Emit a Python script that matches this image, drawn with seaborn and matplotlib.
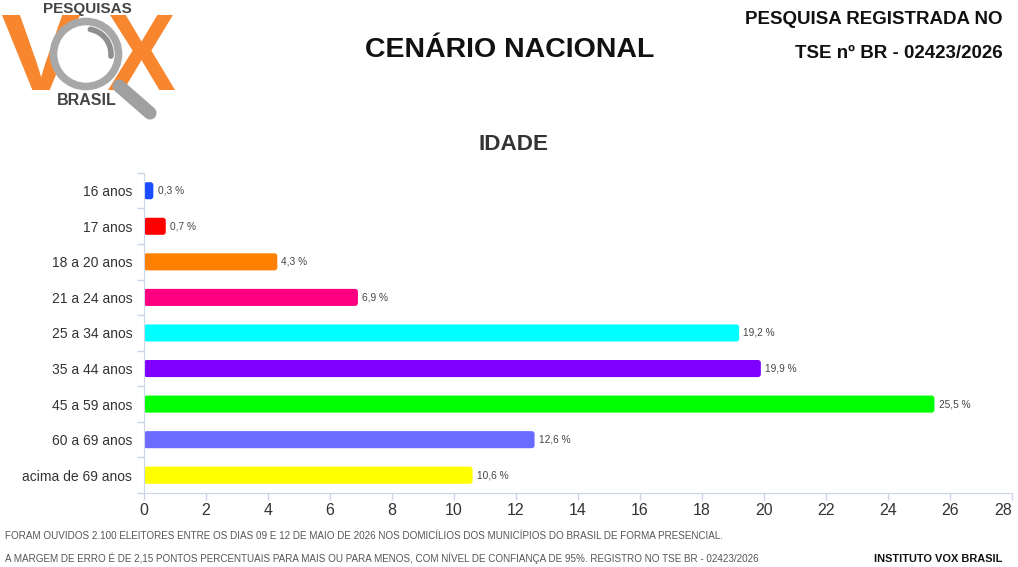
import numpy as np
import pandas as pd
import matplotlib
matplotlib.use("Agg")
import matplotlib.pyplot as plt
import seaborn as sns
from matplotlib.patches import Circle, PathPatch, FancyBboxPatch, Arc
from matplotlib.lines import Line2D
from matplotlib.textpath import TextPath
from matplotlib.font_manager import FontProperties
from matplotlib.transforms import Affine2D

# chart data
faixas = ["16 anos", "17 anos", "18 a 20 anos", "21 a 24 anos", "25 a 34 anos",
          "35 a 44 anos", "45 a 59 anos", "60 a 69 anos", "acima de 69 anos"]
percentuais = [0.3, 0.7, 4.3, 6.9, 19.2, 19.9, 25.5, 12.6, 10.6]
cores = ["#1a4dff", "#ff0000", "#ff8000", "#ff0080", "#00ffff",
         "#8000ff", "#00ff00", "#6b6bff", "#ffff00"]
x_ticks = list(range(0, 29, 2))

sns.set_style("white")
plt.rcParams['font.family'] = ['Liberation Sans', 'DejaVu Sans']

df = pd.DataFrame({"faixa": faixas, "pct": percentuais})

fig = plt.figure(figsize=(10.18, 5.67), dpi=100)
ax = fig.add_axes([0.1415, 0.1305, 0.8525, 0.5645])

sns.barplot(data=df, x="pct", y="faixa", hue="faixa", palette=cores,
            orient="h", width=0.48, legend=False, ax=ax, saturation=1)

for c in ax.containers:
    ax.bar_label(c, labels=[f"{v:.1f} %".replace(".", ",") for v in c.datavalues],
                 padding=3, fontsize=7.3, color="#444444")

# swap the square bars for slightly rounded ones
for p in list(ax.patches):
    x, y = p.get_x(), p.get_y()
    w, h = p.get_width(), p.get_height()
    fc = p.get_facecolor()
    p.set_visible(False)
    ax.add_patch(FancyBboxPatch((x, y), w, h,
                                boxstyle="round,pad=0,rounding_size=0.09",
                                mutation_aspect=31 / 35.5,
                                facecolor=fc, edgecolor="none"))

axis_col = "#ccd6eb"
ax.set_xlim(0, 28)
ax.set_ylim(len(faixas) - 0.5, -0.5)
ax.set_xticks(x_ticks)
ax.set_xticklabels([str(t) for t in x_ticks])
ax.set_xlabel("")
ax.set_ylabel("")
for sp in ["top", "right"]:
    ax.spines[sp].set_visible(False)
ax.spines["left"].set_color(axis_col)
ax.spines["bottom"].set_color(axis_col)
ax.tick_params(axis="x", bottom=True, length=5, width=1, color=axis_col,
               labelsize=11.5, labelcolor="#333333", pad=2.5)
ax.tick_params(axis="y", which="major", left=True, length=0, labelsize=10,
               labelcolor="#333333", pad=8.5)
ax.set_yticks(np.arange(-0.5, len(faixas), 1), minor=True)
ax.tick_params(axis="y", which="minor", left=True, length=5, width=1, color=axis_col)
ax.get_xticklabels()[-1].set_ha("right")

# headers
fig.text(0.501, 0.912, "CENÁRIO NACIONAL", ha="center", va="center",
         fontsize=20.5, fontweight="bold", color="#111111")
fig.text(0.504, 0.745, "IDADE", ha="center", va="center",
         fontsize=16.2, fontweight="bold", color="#333333")
fig.text(0.985, 0.965, "PESQUISA REGISTRADA NO", ha="right", va="center",
         fontsize=13.5, fontweight="bold", color="#111111")
fig.text(0.985, 0.905, "TSE nº BR - 02423/2026", ha="right", va="center",
         fontsize=13.5, fontweight="bold", color="#111111")

# footer
fig.text(0.005, 0.054, "FORAM OUVIDOS 2.100 ELEITORES ENTRE OS DIAS 09 E 12 DE MAIO DE 2026 NOS DOMICÍLIOS DOS MUNICÍPIOS DO BRASIL DE FORMA PRESENCIAL.",
         ha="left", va="center", fontsize=7.13, color="#555555")
fig.text(0.005, 0.016, "A MARGEM DE ERRO É DE 2,15 PONTOS PERCENTUAIS PARA MAIS OU PARA MENOS, COM NÍVEL DE CONFIANÇA DE 95%. REGISTRO NO TSE BR - 02423/2026",
         ha="left", va="center", fontsize=7.13, color="#555555")
fig.text(0.985, 0.014, "INSTITUTO VOX BRASIL", ha="right", va="center",
         fontsize=7.9, fontweight="bold", color="#111111")

# logo, drawn in pixel positions (origin top-left, 100 px per inch)
H = 567
def pix(x, y):
    return (x / 100.0, (H - y) / 100.0)

bold = FontProperties(family="Liberation Sans", weight="bold")
for letra, x0, x1 in [("V", 2, 80), ("X", 108, 175)]:
    tp = TextPath((0, 0), letra, prop=bold, size=1)
    ext = tp.get_extents()
    sx = (x1 - x0) / ext.width / 100.0
    sy = 75 / ext.height / 100.0
    tr = (Affine2D().translate(-ext.x0, -ext.y0).scale(sx, sy)
          .translate(x0 / 100.0, (H - 90) / 100.0) + fig.dpi_scale_trans)
    fig.patches.append(PathPatch(tp, transform=tr, facecolor="#f7862f",
                                 edgecolor="none"))

fig.lines.append(Line2D([1.19, 1.50], [(H - 86) / 100.0, (H - 113) / 100.0],
                        transform=fig.dpi_scale_trans, color="#a0a0a0",
                        linewidth=9.5, solid_capstyle="round"))
fig.patches.append(Circle(pix(86, 54), 0.325, transform=fig.dpi_scale_trans,
                          facecolor="white", edgecolor="#a8a8a8", linewidth=5.5))
fig.patches.append(Arc(pix(86, 54), 0.50, 0.50, theta1=-5, theta2=80,
                       transform=fig.dpi_scale_trans, color="#8f8f8f",
                       linewidth=4, capstyle="round"))
fig.text(0.086, 0.985, "PESQUISAS", ha="center", va="center",
         fontsize=11, fontweight="bold", color="#444444")
fig.text(0.085, 0.823, "BRASIL", ha="center", va="center",
         fontsize=11.5, fontweight="bold", color="#444444")

fig.savefig("out.png", dpi=100)
